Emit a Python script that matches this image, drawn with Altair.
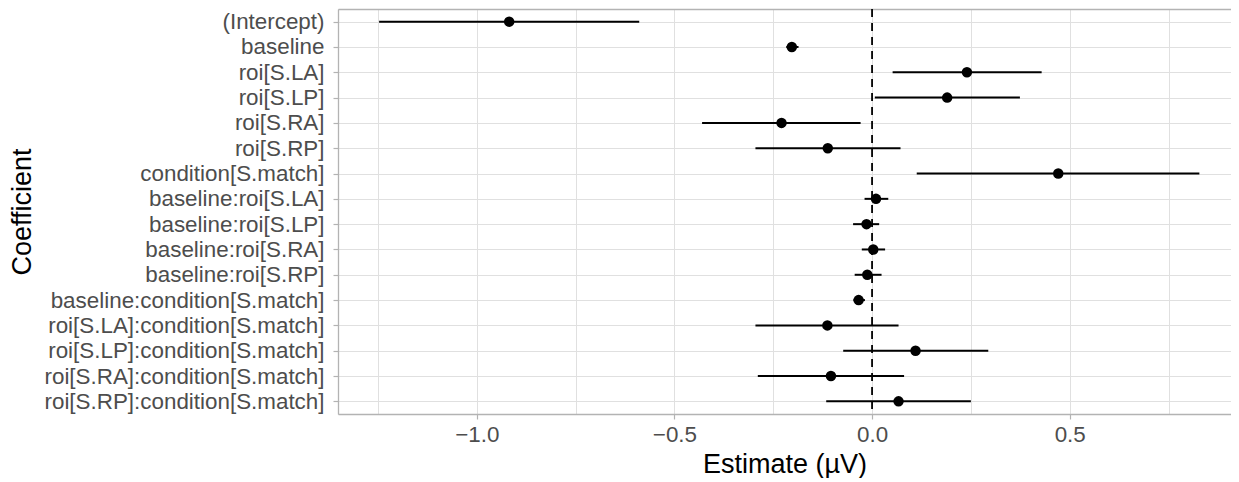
import altair as alt
import pandas as pd

terms = [
    "(Intercept)", "baseline", "roi[S.LA]", "roi[S.LP]", "roi[S.RA]", "roi[S.RP]",
    "condition[S.match]", "baseline:roi[S.LA]", "baseline:roi[S.LP]",
    "baseline:roi[S.RA]", "baseline:roi[S.RP]", "baseline:condition[S.match]",
    "roi[S.LA]:condition[S.match]", "roi[S.LP]:condition[S.match]",
    "roi[S.RA]:condition[S.match]", "roi[S.RP]:condition[S.match]",
]
estimate = [-0.918, -0.203, 0.240, 0.190, -0.229, -0.112, 0.471, 0.010, -0.014,
            0.003, -0.012, -0.034, -0.113, 0.110, -0.104, 0.067]
lower = [-1.247, -0.217, 0.052, 0.007, -0.430, -0.295, 0.113, -0.019, -0.048,
         -0.026, -0.044, -0.047, -0.295, -0.073, -0.289, -0.116]
upper = [-0.589, -0.186, 0.429, 0.374, -0.029, 0.072, 0.828, 0.041, 0.018,
         0.033, 0.024, -0.018, 0.067, 0.294, 0.081, 0.250]
ref_line = [0.0]
grid_values = [-1.25, -1.0, -0.75, -0.5, -0.25, 0.0, 0.25, 0.5, 0.75]

df = pd.DataFrame({"term": terms, "est": estimate, "lo": lower, "hi": upper})
zdf = pd.DataFrame({"z": ref_line})

FONT = "Liberation Sans"
BORDER = "#B3B3B3"
GRID = "#E0E0E0"
xscale = alt.Scale(domain=[-1.351, 0.908], nice=False, zero=False)
yscale = alt.Scale(type="point", padding=0.5)
minor_test = "abs(datum.value*2 - round(datum.value*2)) > 0.001"

x_axis = alt.Axis(
    values=grid_values,
    labelExpr=f"({minor_test}) ? '' : format(datum.value, '.1f')",
    tickOpacity={"condition": {"test": minor_test, "value": 0}, "value": 1},
    grid=True, gridColor=GRID, gridWidth=1,
    domainColor=BORDER, domainWidth=1.3,
    tickColor=BORDER, tickSize=5, tickWidth=1.2,
    labelColor="#4D4D4D", labelFontSize=22.4, labelFont=FONT, labelPadding=4,
    title="Estimate (µV)", titleFont=FONT, titleFontSize=27,
    titleFontWeight="normal", titleColor="black", titlePadding=6,
)
y_axis = alt.Axis(
    grid=True, gridColor=GRID, gridWidth=1,
    domainColor=BORDER, domainWidth=1.3,
    tickColor=BORDER, tickSize=5, tickWidth=1.2,
    labelColor="#4D4D4D", labelFontSize=22.4, labelFont=FONT, labelPadding=9,
    labelLimit=400, minExtent=293, maxExtent=293,
    title="Coefficient", titleFont=FONT, titleFontSize=27,
    titleFontWeight="normal", titleColor="black", titlePadding=9,
)
top_axis = alt.Axis(
    orient="top", labels=False, ticks=False, grid=False,
    domainColor=BORDER, domainWidth=1.3, title=None,
)

base = alt.Chart(df)
bars = base.mark_rule(color="black", strokeWidth=2).encode(
    x=alt.X("lo:Q", scale=xscale, axis=x_axis),
    x2="hi:Q",
    y=alt.Y("term:N", sort=terms, scale=yscale, axis=y_axis),
)
pts = base.mark_circle(size=110, color="black", opacity=1).encode(
    x=alt.X("est:Q", scale=xscale, axis=None),
    y=alt.Y("term:N", sort=terms, scale=yscale, axis=y_axis),
)
zero = alt.Chart(zdf).mark_rule(color="black", strokeWidth=1.8, strokeDash=[8, 6]).encode(
    x=alt.X("z:Q", scale=xscale, axis=top_axis),
)

chart = (
    alt.layer(zero, bars, pts)
    .resolve_axis(x="independent")
    .properties(width=893, height=405)
    .configure_view(stroke=None)
    .configure(background="white", padding=0)
)

chart.save("out.html", embed_options={"renderer": "svg", "actions": False})
